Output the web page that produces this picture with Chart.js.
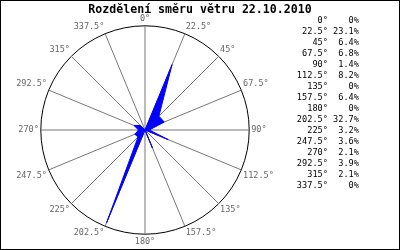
<!DOCTYPE html>
<html>
<head>
<meta charset="utf-8">
<script src="https://cdn.jsdelivr.net/npm/chart.js@4"></script>
<style>
  body { margin: 0; background: #fff; }
</style>
</head>
<body>
<canvas id="wind-chart" width="400" height="250"></canvas>
<script>
// Wind direction (degrees) and share of measurements (%)
const directions = [0, 22.5, 45, 67.5, 90, 112.5, 135, 157.5, 180, 202.5, 225, 247.5, 270, 292.5, 315, 337.5];
const shares = [0, 23.1, 6.4, 6.8, 1.4, 8.2, 0, 6.4, 0, 32.7, 3.2, 3.6, 2.1, 3.9, 2.1, 0];
const directionLabels = directions.map(d => d + '°');
const shareLabels = shares.map(v => v + '%');

// black frame round the whole picture
const frame = {
    id: 'frame',
    afterDraw(chart) {
        const c = chart.ctx;
        c.save();
        c.strokeStyle = '#000';
        c.lineWidth = 1;
        c.strokeRect(0.5, 0.5, chart.width - 1, chart.height - 1);
        c.restore();
    }
};

const ctx = document.getElementById('wind-chart').getContext('2d');
const chart = new Chart(ctx, {
    type: 'radar',
    data: {
        labels: directionLabels,
        datasets: [{
            label: 'Směr větru',
            data: shares,
            backgroundColor: '#0000ff',
            borderColor: '#0000ff',
            borderWidth: 1,
            pointRadius: 0,
            fill: true
        }]
    },
    options: {
        responsive: false,
        animation: false,
        layout: { padding: { bottom: 3 } },
        plugins: {
            title: {
                display: true,
                text: 'Rozdělení směru větru 22.10.2010',
                color: '#000',
                font: { family: 'DejaVu Sans Mono', size: 11.6, weight: 'bold', lineHeight: 0.655 },
                padding: { top: 6, bottom: 0 }
            },
            // the direction table on the right
            legend: {
                display: true,
                position: 'right',
                align: 'start',
                fullSize: false,
                onClick: null,
                title: { display: true, text: ' ', font: { size: 1.5, lineHeight: 1 }, padding: 0 },
                labels: {
                    color: '#000',
                    font: { family: 'DejaVu Sans Mono', size: 8.6 },
                    boxWidth: 1.5,
                    boxHeight: 11,
                    padding: 0,
                    generateLabels: function() {
                        return directionLabels.map((d, i) => ({
                            text: d.padStart(6) + ' ' + shareLabels[i].padStart(5) + '      ',
                            fillStyle: 'rgba(0,0,0,0)',
                            strokeStyle: 'rgba(0,0,0,0)',
                            lineWidth: 0,
                            fontColor: '#000'
                        }));
                    }
                }
            },
            tooltip: { enabled: false }
        },
        scales: {
            r: {
                min: 0,
                max: 34,
                ticks: { display: false, stepSize: 34 },
                grid: { circular: true, color: '#000', lineWidth: 1 },
                angleLines: { color: '#777', lineWidth: 1 },
                pointLabels: {
                    color: '#666',
                    padding: 2,
                    font: { family: 'DejaVu Sans Mono', size: 8.5 }
                }
            }
        }
    },
    plugins: [frame]
});
</script>
</body>
</html>
